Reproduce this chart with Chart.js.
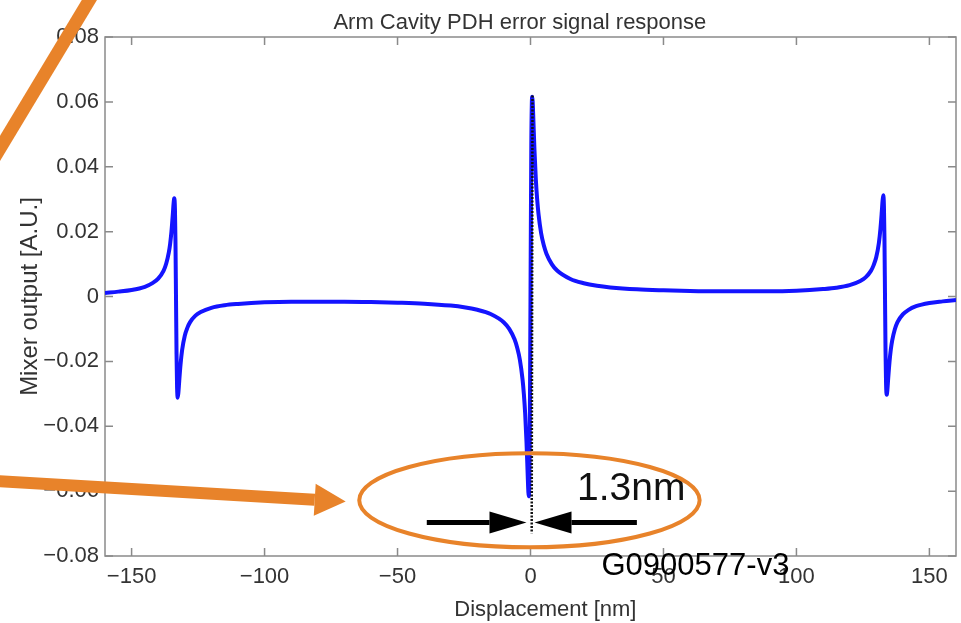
<!DOCTYPE html>
<html>
<head>
<meta charset="utf-8">
<script src="https://cdn.jsdelivr.net/npm/chart.js@4"></script>
<style>
  html, body { margin: 0; padding: 0; background: #fff; }
  #wrap { width: 961px; height: 623px; }
</style>
</head>
<body>
<div id="wrap"><canvas id="pdh"></canvas></div>
<script>
// displacement [nm] and mixer output [A.U.]
const dispNm = [
  -160, -155, -150, -145, -142, -140, -138, -137, -136, -135.5, -135, -134.5,
  -134.2, -133.95, -133.7, -133.5, -133.3, -133.1, -132.9, -132.65, -132.4,
  -132.1, -131.6, -131, -130, -129, -128, -126, -124, -120, -115, -110, -100,
  -90, -80, -70, -60, -50, -40, -30, -25, -20, -15, -10, -8, -6, -5, -4, -3,
  -2.5, -2, -1.5, -1.2, -1, -0.8, -0.65, -0.5, -0.3, 0,
  0.3, 0.5, 0.65, 0.8, 1, 1.2, 1.5, 2, 2.5, 3, 4, 5, 6, 8, 10, 15, 20, 25, 30,
  40, 50, 60, 70, 80, 90, 100, 110, 115, 120, 124, 126, 128, 129, 130, 131,
  131.6, 132.1, 132.4, 132.65, 132.9, 133.1, 133.3, 133.5, 133.7, 133.95,
  134.2, 134.5, 135, 135.5, 136, 137, 138, 140, 142, 145, 150, 155, 160,
];
const mixerOut = [
  0.0011, 0.0015, 0.0020, 0.0030, 0.0042, 0.0055, 0.0079, 0.0101, 0.0136,
  0.0163, 0.0201, 0.0253, 0.0288, 0.0303, 0.0270, 0.0169, -0.0004, -0.0177,
  -0.0279, -0.0312, -0.0296, -0.0262, -0.0210, -0.0165, -0.0121, -0.0096,
  -0.0079, -0.0059, -0.0048, -0.0035, -0.0027, -0.0023, -0.0018, -0.0016,
  -0.0016, -0.0016, -0.0017, -0.0019, -0.0022, -0.0028, -0.0033, -0.0041,
  -0.0054, -0.0080, -0.0100, -0.0132, -0.0158, -0.0195, -0.0255, -0.0300,
  -0.0362, -0.0450, -0.0516, -0.0563, -0.0603, -0.0616, -0.0595, -0.0469, 0,
  0.0469, 0.0595, 0.0616, 0.0603, 0.0563, 0.0516, 0.0450, 0.0362, 0.0300,
  0.0255, 0.0195, 0.0158, 0.0132, 0.0100, 0.0080, 0.0054, 0.0041, 0.0033,
  0.0028, 0.0022, 0.0019, 0.0017, 0.0016, 0.0016, 0.0016, 0.0018, 0.0023,
  0.0027, 0.0035, 0.0048, 0.0059, 0.0079, 0.0096, 0.0121, 0.0165, 0.0210,
  0.0262, 0.0296, 0.0312, 0.0279, 0.0177, 0.0004, -0.0169, -0.0270, -0.0303,
  -0.0288, -0.0253, -0.0201, -0.0163, -0.0136, -0.0101, -0.0079, -0.0055,
  -0.0042, -0.0030, -0.0020, -0.0015, -0.0011,
];
// dotted linear slope through the carrier resonance
const slopeX = [0.75, 0.45];
const slopeY = [0.062, -0.073];

const xTicks = [-150, -100, -50, 0, 50, 100, 150];
const yTicks = [-0.08, -0.06, -0.04, -0.02, 0, 0.02, 0.04, 0.06, 0.08];

const FONT = "'Liberation Sans', Arial, Helvetica, sans-serif";
const TEXT = "#333333";
const FRAME = "#8a8a8a";
const ORANGE = "#e8832a";

function fmtY(v) {
  if (Math.abs(v) < 1e-9) return "0";
  const s = Math.abs(v).toFixed(2);
  return v < 0 ? "\u2212" + s : s;
}
function fmtX(v) {
  return v < 0 ? "\u2212" + Math.abs(v) : String(v);
}

// box frame with inward ticks on all four sides (matlab look)
const boxTicks = {
  id: "boxTicks",
  beforeDatasetsDraw(chart) {
    const { ctx, chartArea: a, scales } = chart;
    ctx.save();
    ctx.strokeStyle = FRAME;
    ctx.lineWidth = 1.5;
    ctx.strokeRect(a.left, a.top, a.right - a.left, a.bottom - a.top);
    const len = 8;
    ctx.beginPath();
    xTicks.forEach((v) => {
      const px = scales.x.getPixelForValue(v);
      ctx.moveTo(px, a.bottom);
      ctx.lineTo(px, a.bottom - len);
      ctx.moveTo(px, a.top);
      ctx.lineTo(px, a.top + len);
    });
    yTicks.forEach((v) => {
      const py = scales.y.getPixelForValue(v);
      ctx.moveTo(a.left, py);
      ctx.lineTo(a.left + len, py);
      ctx.moveTo(a.right, py);
      ctx.lineTo(a.right - len, py);
    });
    ctx.stroke();

    // title and x label sit a little off the canvas centre, as on the slide
    ctx.fillStyle = TEXT;
    ctx.textAlign = "center";
    ctx.textBaseline = "alphabetic";
    ctx.font = "22px " + FONT;
    ctx.fillText("Arm Cavity PDH error signal response", scales.x.getPixelForValue(-4), 29);
    ctx.fillText("Displacement [nm]", scales.x.getPixelForValue(5.6), 616);
    ctx.restore();
  },
};

function arrow(ctx, x0, y0, x1, y1, w, headLen, headHalf, color) {
  const ang = Math.atan2(y1 - y0, x1 - x0);
  const bx = x1 - headLen * Math.cos(ang);
  const by = y1 - headLen * Math.sin(ang);
  ctx.save();
  ctx.strokeStyle = color;
  ctx.fillStyle = color;
  ctx.lineWidth = w;
  ctx.beginPath();
  ctx.moveTo(x0, y0);
  ctx.lineTo(bx, by);
  ctx.stroke();
  ctx.beginPath();
  ctx.moveTo(x1, y1);
  ctx.lineTo(bx + headHalf * Math.sin(ang), by - headHalf * Math.cos(ang));
  ctx.lineTo(bx - headHalf * Math.sin(ang), by + headHalf * Math.cos(ang));
  ctx.closePath();
  ctx.fill();
  ctx.restore();
}

// slide annotations, placed in data units
const notes = {
  id: "notes",
  afterDraw(chart) {
    const { ctx } = chart;
    const X = (v) => chart.scales.x.getPixelForValue(v);
    const Y = (v) => chart.scales.y.getPixelForValue(v);

    // black arrows marking the linewidth
    arrow(ctx, X(-39), Y(-0.0697), X(-1.5), Y(-0.0697), 5, 37, 11, "#000");
    arrow(ctx, X(40), Y(-0.0697), X(1.5), Y(-0.0697), 5, 37, 11, "#000");

    ctx.save();
    ctx.fillStyle = "#111";
    ctx.textBaseline = "alphabetic";
    ctx.textAlign = "left";
    ctx.font = "39px " + FONT;
    ctx.fillText("1.3nm", X(17.5), Y(-0.0627));
    ctx.font = "31px " + FONT;
    ctx.fillStyle = "#000";
    ctx.fillText("G0900577-v3", X(26.7), Y(-0.0858));
    ctx.restore();

    // orange ellipse round the zero crossing
    ctx.save();
    ctx.strokeStyle = ORANGE;
    ctx.lineWidth = 4;
    ctx.beginPath();
    const cx = X(-0.4), cy = Y(-0.0628);
    ctx.ellipse(cx, cy, X(64) - X(0), Y(-0.0773) - cy, 0, 0, Math.PI * 2);
    ctx.stroke();

    // orange slanted line at top-left
    ctx.lineWidth = 13;
    ctx.beginPath();
    ctx.moveTo(X(-204), Y(0.0395));
    ctx.lineTo(X(-162.5), Y(0.0960));
    ctx.stroke();
    ctx.restore();

    // orange arrow pointing at the ellipse
    arrow(ctx, X(-202), Y(-0.0568), X(-69.5), Y(-0.0632), 12, 31, 16, ORANGE);
  },
};

const ctxPdh = document.getElementById("pdh").getContext("2d");
new Chart(ctxPdh, {
  type: "line",
  data: {
    datasets: [
      {
        data: slopeX.map((x, i) => ({ x: x, y: slopeY[i] })),
        borderColor: "#111",
        borderWidth: 2.5,
        borderDash: [2, 1.5],
        pointRadius: 0,
        order: 0,
      },
      {
        data: dispNm.map((x, i) => ({ x: x, y: mixerOut[i] })),
        borderColor: "#1414ff",
        borderWidth: 4,
        pointRadius: 0,
        cubicInterpolationMode: "monotone",
        order: 1,
      },
    ],
  },
  options: {
    responsive: true,
    maintainAspectRatio: false,
    animation: false,
    layout: { padding: { left: 0, right: 5, top: 37, bottom: 0 } },
    plugins: {
      legend: { display: false },
      tooltip: { enabled: false },
      title: { display: false },
    },
    scales: {
      x: {
        type: "linear",
        min: -160,
        max: 160,
        grid: { display: false, drawTicks: false },
        border: { display: false },
        afterBuildTicks: (s) => {
          s.ticks = xTicks.map((v) => ({ value: v }));
        },
        afterFit: (s) => {
          s.height = 67;
        },
        ticks: {
          color: TEXT,
          padding: 8,
          maxRotation: 0,
          font: { family: FONT, size: 22 },
          callback: (v) => fmtX(v),
        },
      },
      y: {
        type: "linear",
        min: -0.08,
        max: 0.08,
        grid: { display: false, drawTicks: false },
        border: { display: false },
        afterBuildTicks: (s) => {
          s.ticks = yTicks.map((v) => ({ value: v }));
        },
        afterFit: (s) => {
          s.width = 105;
        },
        ticks: {
          color: TEXT,
          padding: 6,
          font: { family: FONT, size: 22 },
          callback: (v) => fmtY(v),
        },
        title: {
          display: true,
          text: "Mixer output [A.U.]",
          color: TEXT,
          font: { family: FONT, size: 24 },
          padding: { top: 16, bottom: 0 },
        },
      },
    },
  },
  plugins: [boxTicks, notes],
});
</script>
</body>
</html>
